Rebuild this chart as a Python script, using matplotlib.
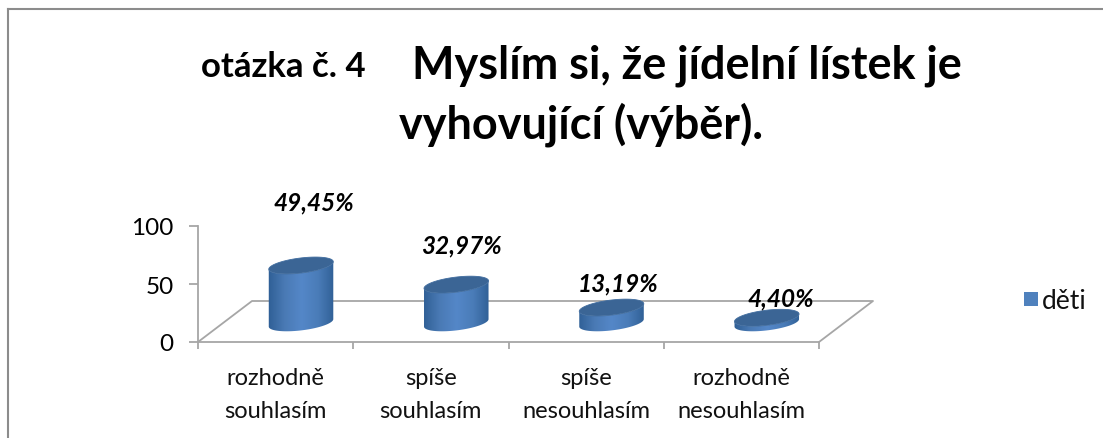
#!/usr/bin/env python

import numpy as np
import matplotlib
matplotlib.use("Agg")
import matplotlib.pyplot as plt
from matplotlib.colors import LinearSegmentedColormap
from matplotlib.patches import Polygon, Rectangle

plt.rcParams['font.family'] = ['Lato', 'Noto Sans', 'DejaVu Sans']

categories = ["rozhodně\nsouhlasím", "spíše\nsouhlasím", "spíše\nnesouhlasím", "rozhodně\nnesouhlasím"]
values = [49.45, 32.97, 13.19, 4.40]
value_labels = ["49,45%", "32,97%", "13,19%", "4,40%"]
yticks = [0, 50, 100]
series_name = "děti"

W, H = 1103, 439
AX_L, AX_R, AX_B, AX_T = 198, 819, 343, 227
PX_X = (AX_R - AX_L) / 4.0
PX_Y = (AX_B - AX_T) / 100.0

GRAY = "#a6a6a6"
cyl_map = LinearSegmentedColormap.from_list(
    "cyl", ["#2f5f95", "#4a7ab5", "#5487c8", "#4a7cb8", "#2f5f95"])


def ellipse(cx, cy, a, b, t):
    # tilted ellipse, sizes in pixels around a data point, returned in data units
    tilt = np.radians(7.0)
    x = a * np.cos(t) * np.cos(tilt) - b * np.sin(t) * np.sin(tilt)
    y = a * np.cos(t) * np.sin(tilt) + b * np.sin(t) * np.cos(tilt)
    return cx + x / PX_X, cy + y / PX_Y


def draw_cylinder(ax, x, value, a, b, lift):
    t = np.linspace(0, 2 * np.pi, 120)
    low = np.linspace(np.pi, 2 * np.pi, 60)

    # body: lower half of the base + lower half of the top, going back
    bx, by = ellipse(x, lift, a, b, low)
    tx, ty = ellipse(x, lift + value, a, b, low[::-1])
    body = np.column_stack([np.r_[bx, tx], np.r_[by, ty]])
    patch = Polygon(body, closed=True, fc="none", ec="none", transform=ax.transData)
    ax.add_patch(patch)
    grad = np.linspace(0, 1, 200).reshape(1, -1)
    im = ax.imshow(grad, cmap=cyl_map, aspect="auto", zorder=3,
                   extent=(x - a / PX_X * 1.02, x + a / PX_X * 1.02, lift - 10, lift + value + 10))
    im.set_clip_path(patch)

    ex, ey = ellipse(x, lift + value, a, b, t)
    ax.add_patch(Polygon(np.column_stack([ex, ey]), closed=True, fc="#3b6595",
                         ec="#416d9f", lw=0.6, zorder=4, clip_on=False))


def main():

    fig = plt.figure(figsize=(W / 100.0, H / 100.0), dpi=100)
    ax = fig.add_axes([AX_L / W, 1 - AX_B / H, (AX_R - AX_L) / W, (AX_B - AX_T) / H])
    ax.patch.set_alpha(0)

    # chart border, only top and left are inside the crop
    fig.add_artist(plt.Line2D([8 / W, 8 / W], [0, 1 - 9.5 / H], color="#8c8c8c", lw=1.5))
    fig.add_artist(plt.Line2D([8 / W, 1], [1 - 9.5 / H, 1 - 9.5 / H], color="#8c8c8c", lw=1.5))

    x = np.arange(len(categories))
    centers = x + 0.5

    # floor of the 3d box
    depth_x = 54 / PX_X
    depth_y = 41 / PX_Y
    ax.plot([0, depth_x, 4 + depth_x, 4], [0, depth_y, depth_y, 0], color=GRAY, lw=1.3,
            clip_on=False, zorder=1)

    # cylinders sit on the floor, labels float at excel's odd heights
    shift = 25.4 / PX_X
    lift = 16.5
    label_dx = [13, 5, 7, 14]
    label_dy = [64, 40, 25, 20]
    for i in range(len(values)):
        cx = centers[i] + shift
        draw_cylinder(ax, cx, values[i], 32.5, 7.5, lift)
        ax.text(cx + label_dx[i] / PX_X, lift + values[i] + label_dy[i] / PX_Y, value_labels[i],
                ha="center", va="center", fontsize=17.5, fontweight="bold",
                style="italic", color="black", zorder=6, clip_on=False)

    ax.set_xlim(0, 4)
    ax.set_ylim(0, 100)
    ax.set_xticks(np.arange(5))
    ax.set_xticklabels([])
    ax.set_xticks(centers, minor=True)
    ax.set_xticklabels(categories, minor=True, fontsize=17, linespacing=1.7, color="#111111")
    ax.tick_params(axis="x", which="minor", length=0, pad=18)
    ax.tick_params(axis="x", which="major", length=5, width=1.3, color=GRAY)
    ax.set_yticks(yticks)
    ax.tick_params(axis="y", length=6.5, width=1.3, color=GRAY, labelsize=17.5, pad=11)
    for s in ["top", "right"]:
        ax.spines[s].set_visible(False)
    for s in ["left", "bottom"]:
        ax.spines[s].set_color(GRAY)
        ax.spines[s].set_linewidth(1.3)

    # title
    fig.text(283 / W, 1 - 67 / H, "otázka č. 4", ha="center", va="center", fontsize=25,
             fontweight="bold", color="black")
    fig.text(687 / W, 1 - 66 / H, "Myslím si, že jídelní lístek je", ha="center", va="center",
             fontsize=32.4, fontweight="bold", color="black")
    fig.text(581 / W, 1 - 125 / H, "vyhovující (výběr).", ha="center", va="center",
             fontsize=32.4, fontweight="bold", color="black")

    # legend
    fig.add_artist(Rectangle((1024 / W, 1 - 307 / H), 14 / W, 14 / H, fc="#4f81bd", ec="none",
                             transform=fig.transFigure))
    fig.text(1042 / W, 1 - 302 / H, series_name, ha="left", va="center", fontsize=19, color="#111111")

    fig.savefig("out.png", dpi=100)


if __name__ == "__main__":

    main()
